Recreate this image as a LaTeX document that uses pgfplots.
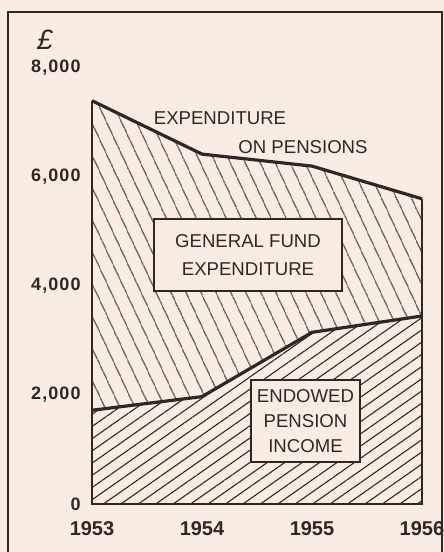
\documentclass[border=0pt]{standalone}
\usepackage{fontspec}
\setmainfont{Liberation Sans}
\usepackage{pgfplots}
\pgfplotsset{compat=1.18}
\usetikzlibrary{patterns.meta}
\definecolor{paper}{RGB}{249,237,227}
\definecolor{ink}{RGB}{45,40,38}
\begin{document}
\begin{tikzpicture}[x=1pt,y=1pt]
\useasboundingbox (0,0) rectangle (222,276);
\clip (0,0) rectangle (222,276);
\fill[paper] (0,0) rectangle (222,276);
\begin{axis}[at={(46pt,24pt)}, anchor=south west, scale only axis,
  width=165pt, height=218pt,
  xmin=1953, xmax=1956, ymin=0, ymax=8000, clip=false,
  axis line style={draw=none}, major tick length=0pt,
  xtick={1953,1954,1955,1956}, xticklabels={1953,1954,1955,1956},
  ytick={0,2000,4000,6000,8000}, yticklabels={0,{2,000},{4,000},{6,000},{8,000}},
  scaled ticks=false, /pgf/number format/assume math mode=true,
  xticklabel style={inner sep=0pt, yshift=-8.5pt, text=ink, font=\bfseries\fontsize{10}{10}\selectfont},
  yticklabel style={inner sep=0pt, xshift=-5.5pt, text=ink, font=\bfseries\fontsize{9}{9}\selectfont\addfontfeatures{LetterSpace=6}},
]
\addplot[draw=none, pattern={Lines[angle=35,distance=5pt,line width=0.55pt]}, pattern color=ink]
  coordinates {(1953,0) (1953,1720) (1954,1970) (1955,3150) (1956,3450) (1956,0)} -- cycle;
\addplot[draw=none, pattern={Lines[angle=-65,distance=6.5pt,line width=0.6pt]}, pattern color=ink]
  coordinates {(1953,1720) (1954,1970) (1955,3150) (1956,3450) (1956,5600) (1955,6200) (1954,6420) (1953,7400)} -- cycle;
\addplot[ink, line width=0.8pt] coordinates {(1953,7400) (1953,0) (1956,0) (1956,5600)};
\addplot[ink, line width=1.6pt, line join=round] coordinates {(1953,7400) (1954,6420) (1955,6200) (1956,5600)};
\addplot[ink, line width=1.6pt, line join=round] coordinates {(1953,1720) (1954,1970) (1955,3150) (1956,3450)};
\end{axis}
\node[text=ink, font=\fontsize{14}{14}\selectfont\itshape] at (22.5,256) {£};
\node[text=ink, font=\fontsize{9.3}{9}\selectfont] at (110,217) {EXPENDITURE};
\node[text=ink, font=\fontsize{9.3}{9}\selectfont] at (151.5,202.5) {ON PENSIONS};
\node[draw=ink, line width=0.9pt, fill=paper, minimum width=94pt, minimum height=36pt, inner sep=0pt, align=center, text=ink, font=\fontsize{9.3}{14}\selectfont] at (124,148.5) {GENERAL FUND\\EXPENDITURE};
\node[draw=ink, line width=0.9pt, fill=paper, minimum width=54.5pt, minimum height=41pt, inner sep=0pt, align=center, text=ink, font=\fontsize{9.3}{12.5}\selectfont] at (152.75,65.5) {ENDOWED\\PENSION\\INCOME};
\draw[ink, line width=1pt] (4,-5) rectangle (221,270);
\end{tikzpicture}
\end{document}
